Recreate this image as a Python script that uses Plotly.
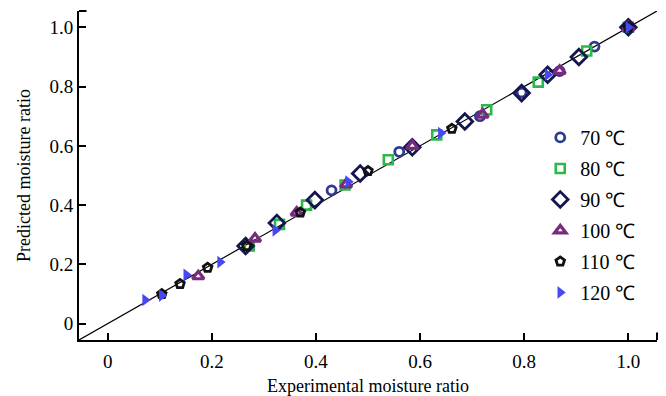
import plotly.graph_objects as go

# ---- data (experimental MR, predicted MR) ----
series_names = ["70 ℃", "80 ℃", "90 ℃", "100 ℃", "110 ℃", "120 ℃"]

exp_70 = [1.0, 0.935, 0.868, 0.795, 0.715, 0.560, 0.430]
pred_70 = [1.0, 0.935, 0.852, 0.780, 0.700, 0.580, 0.450]

exp_80 = [1.0, 0.920, 0.827, 0.728, 0.632, 0.539, 0.456, 0.382, 0.330, 0.272]
pred_80 = [1.0, 0.920, 0.815, 0.722, 0.637, 0.553, 0.468, 0.400, 0.335, 0.262]

exp_90 = [1.0, 0.905, 0.845, 0.795, 0.686, 0.585, 0.485, 0.398, 0.325, 0.265]
pred_90 = [1.0, 0.900, 0.840, 0.778, 0.682, 0.595, 0.507, 0.417, 0.340, 0.262]

exp_100 = [1.0, 0.868, 0.720, 0.585, 0.458, 0.363, 0.283, 0.174]
pred_100 = [1.0, 0.853, 0.705, 0.600, 0.470, 0.375, 0.287, 0.160]

exp_110 = [1.0, 0.661, 0.500, 0.370, 0.267, 0.192, 0.139, 0.104]
pred_110 = [1.0, 0.658, 0.515, 0.375, 0.262, 0.189, 0.134, 0.100]

exp_120 = [1.0, 0.845, 0.640, 0.462, 0.322, 0.216, 0.151, 0.104, 0.072]
pred_120 = [1.0, 0.840, 0.643, 0.479, 0.315, 0.208, 0.165, 0.095, 0.080]

tick_vals = [0, 0.2, 0.4, 0.6, 0.8, 1.0]
tick_text = ["0", "0.2", "0.4", "0.6", "0.8", "1.0"]
axis_range = [-0.055, 1.055]

# ---- styles ----
styles = [
    dict(symbol="circle-open", size=9, color="#2E3A8F", lw=2.8),
    dict(symbol="square-open", size=9, color="#2DB84D", lw=2.6),
    dict(symbol="diamond-open", size=12, color="#15154F", lw=2.8),
    dict(symbol="triangle-up-open", size=10, color="#7A2A7E", lw=3.2),
    dict(symbol="pentagon-open", size=9, color="#111111", lw=2.8),
    dict(symbol="triangle-right", size=11, color="#4848F2", lw=0),
]

xs = [exp_70, exp_80, exp_90, exp_100, exp_110, exp_120]
ys = [pred_70, pred_80, pred_90, pred_100, pred_110, pred_120]

font_family = "Liberation Serif, Times New Roman, serif"

fig = go.Figure()

# reference line y = x
fig.add_trace(go.Scatter(x=axis_range, y=axis_range, mode="lines",
                         line=dict(color="black", width=1.2),
                         showlegend=False, hoverinfo="skip"))

for name, x, y, st in zip(series_names, xs, ys, styles):
    fig.add_trace(go.Scatter(
        x=x, y=y, mode="markers", name=name, legendgroup=name,
        marker=dict(symbol=st["symbol"], size=st["size"], color=st["color"],
                    line=dict(color=st["color"], width=st["lw"])),
    ))

axis_common = dict(
    range=axis_range, tickvals=tick_vals, ticktext=tick_text, automargin=False,
    showgrid=False, zeroline=False, showline=True, linecolor="black",
    linewidth=2, ticks="inside", ticklen=7, tickwidth=2, tickcolor="black",
    tickfont=dict(family=font_family, size=19, color="black"),
)

fig.update_xaxes(**axis_common, ticklabelstandoff=3,
                 title=dict(text="Experimental moisture ratio", standoff=9,
                            font=dict(family=font_family, size=18, color="black")))
fig.update_yaxes(**axis_common,
                 title=dict(text="Predicted moisture ratio", standoff=14,
                            font=dict(family=font_family, size=18, color="black")))

# end caps of the axes
fig.add_shape(type="line", xref="paper", yref="paper", x0=0, x1=0.013, y0=1, y1=1,
              line=dict(color="black", width=2))
fig.add_shape(type="line", xref="paper", yref="paper", x0=1, x1=1, y0=0, y1=0.023,
              line=dict(color="black", width=2))

fig.update_layout(
    width=666, height=396,
    margin=dict(l=79, r=9, t=11, b=56),
    plot_bgcolor="white", paper_bgcolor="white",
    font=dict(family=font_family, color="black"),
    legend=dict(x=0.798, y=0.675, xanchor="left", yanchor="top",
                bgcolor="rgba(0,0,0,0)", borderwidth=0, tracegroupgap=2,
                font=dict(family=font_family, size=20, color="black")),
)

fig.write_html("out.html", config={"displayModeBar": False},
               post_script="document.body.style.margin='0';document.body.style.overflow='hidden';")
